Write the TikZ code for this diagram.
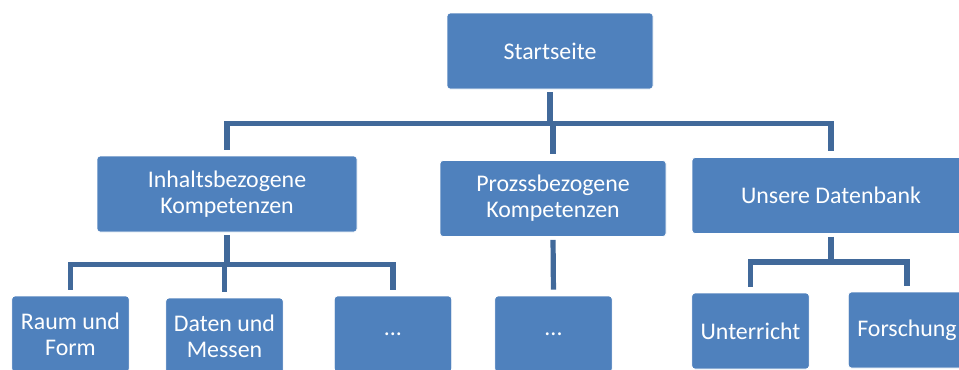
\documentclass[tikz,border=0pt]{standalone}
\usepackage{fontspec}
\setmainfont{Carlito}
\definecolor{boxblue}{HTML}{4F81BD}
\definecolor{lineblue}{HTML}{41699A}
\tikzset{
  {box/.style}={rectangle, rounded corners=2.25pt, draw=white, line width=.6pt,
                fill=boxblue, text=white, align=center, inner sep=0,
                minimum height=57pt, minimum width=88pt,
                font=\fontsize{17.9}{19.6}\selectfont},
  {conn/.style}={draw=lineblue, line width=3.9pt,
                shorten <=2.25pt, shorten >=4.5pt},
}
\begin{document}
\begin{tikzpicture}[x=0.75pt,y=-0.75pt]
    \useasboundingbox (0,0) rectangle (959,369);
    \node[box,minimum width=154.5pt] (startseite) at (550,51) {Startseite};
    \node[box,minimum width=195pt] (inhalt) at (227,194) {Inhaltsbezogene\\ Kompetenzen};
    \node[box,minimum width=169.5pt] (prozess) at (553,198.5) {Prozssbezogene\\ Kompetenzen};
    \node[box,minimum width=208.5pt] (datenbank) at (831,195.5) {Unsere Datenbank};
    \node[box] (raum) at (70.5,334) {Raum und\\ Form};
    \node[box] (daten) at (224.5,336) {Daten und\\ Messen};
    \node[box] (punkte1) at (393,334) {...};
    \node[box] (punkte2) at (553.5,334) {...};
    \node[box] (unterricht) at (750.5,331) {Unterricht};
    \node[box] (forschung) at (907,330) {Forschung};
    \foreach \k in {inhalt,prozess,datenbank}
      \draw[conn] (startseite.south) -- ++(0,34) -| (\k.north);
    \foreach \k in {raum,daten,punkte1}
      \draw[conn] (inhalt.south) -- ++(0,32) -| (\k.north);
    \draw[conn] (prozess.south) -- (punkte2.north);
    \foreach \k in {unterricht,forschung}
      \draw[conn] (datenbank.south) -- ++(0,28) -| (\k.north);
\end{tikzpicture}
\end{document}
